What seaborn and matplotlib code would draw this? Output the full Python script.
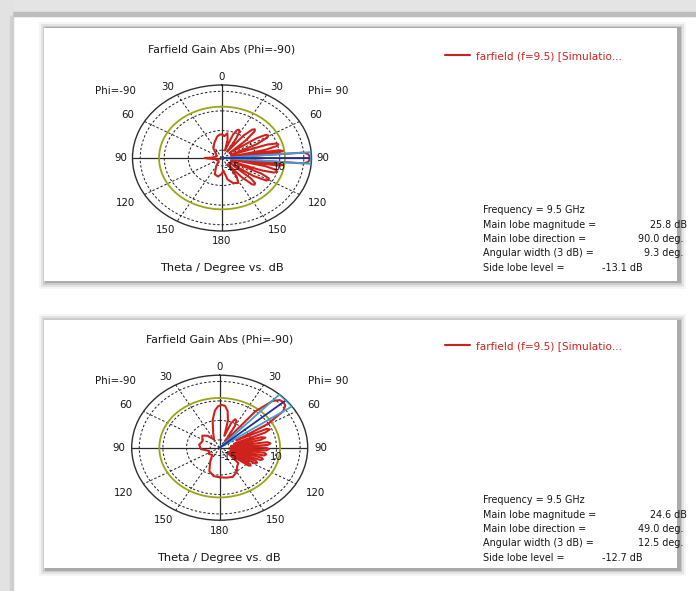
import numpy as np
import matplotlib
matplotlib.use("Agg")
import matplotlib.pyplot as plt
from matplotlib.patches import Rectangle
import seaborn as sns
import pandas as pd

# Farfield cuts (theta in deg, clockwise from top, gain in dB)
top_theta = [-180, -170, -160, -150, -140, -120, -100, -93, -90, -87, -70, -50, -35, -20,
             -10, -4, 0, 5, 10, 14, 18, 21, 24, 26, 28, 31, 34, 38, 41, 43, 45, 48, 51,
             55, 57, 59, 61, 64, 67, 70, 72, 73.5, 75, 77, 79, 80.5, 82, 83.2, 84,
             85.4, 87, 90, 93, 94.6, 96, 96.8, 98, 99.5, 101, 103, 105, 107, 109, 111,
             113, 116, 118, 120, 122, 125, 128, 131, 133, 135, 137, 140, 143, 147, 152,
             160, 168, 175, 180]
top_gain = [-10, -8, -9, -14, -17, -18, -16, -13, -11, -15, -17, -16, -12, -9,
            -6, -5, -5, -6, -4, -8, -15, -4, -0.5, 0, -0.5, -6, -15, -2, 4, 5, 4, -4, -15,
            2, 7, 8, 7, 0, -15, 5, 10, 10.5, 9.5, 3, -15, 10, 12, 9, -12,
            22.8, 25, 25.8, 25, 22.8, -12, 9, 12, 10, -15, 3, 9, 10, 8.5, 2,
            -15, 3, 7.5, 8, 7, 0, -15, 0, 3.5, 4, 3, -4, -15, -6, -2,
            -3, -6, -12, -10]

bot_theta = [-180, -170, -160, -150, -140, -125, -110, -95, -80, -65, -50, -40, -30, -20,
             -12, -6, -2, 2, 6, 10, 14, 18, 21, 24, 27, 30, 35, 39, 43, 46, 49, 52, 55,
             59, 62, 64, 66, 68, 71, 73, 75, 77, 80, 82, 84, 86, 88, 90, 92, 94, 96,
             98, 100, 102, 104, 106, 108, 110, 112, 114, 116, 118, 120, 123, 125, 127,
             130, 135, 142, 150, 160, 170, 180]
bot_gain = [-1, -1.5, -4, -10, -14, -13, -14, -10, -9, -10, -8, -10, -14, -10,
            -2, 4, 6.5, 7.5, 7, 4, -2, -12, -3, 0, -0.5, -4, -15, 10, 21, 24, 24.6, 24, 21,
            10, -10, 7.5, 9, 6, -12, 3, 5, 2, -14, 5.5, 7, 5.5, -14, 4.5, 6, 4.5, -14,
            4, 5, 4, -14, 3, 4, 3, -14, 1, 2, 1, -14, -1, 0, -1,
            -14, -6, -5, -2, 0, -0.5, -1]

freq = [9.5, 9.5]
main_mag = [25.8, 24.6]
main_dir = [90.0, 49.0]
ang_width = [9.3, 12.5]
side_lobe = [-13.1, -12.7]

angle_ticks = [0, 30, 60, 90, 120, 150, 180, 210, 240, 270, 300, 330]
angle_labels = ["0", "30", "60", "90", "120", "150", "180", "150", "120", "90", "60", "30"]
ring_db = [-15, -2.5, 10, 22.5]
rmin, rmax = -20, 26.5

RED = "#d0221c"
LBLUE = "#3d9fd6"
DBLUE = "#1f2f9c"
GREEN = "#9aa514"
TXT = "#161616"
FS = 7.4

sns.set_theme(style="white")
plt.rcParams['font.family'] = ['DejaVu Sans']

fig = plt.figure(figsize=(6.96, 5.91), dpi=100)
W, H = 696, 591


def fx(px):
    return px / W


def fy(py):
    return 1 - py / H


# window background
fig.patches.append(Rectangle((0, fy(16)), 1, 16 / H, transform=fig.transFigure,
                             color="#e4e4e4", zorder=-5))
fig.patches.append(Rectangle((0, fy(16)), 1, 4 / H, transform=fig.transFigure,
                             color="#bdbdbd", zorder=-5))
fig.patches.append(Rectangle((0, 0), 12 / W, 1, transform=fig.transFigure,
                             color="#e2e2e2", zorder=-5))
fig.patches.append(Rectangle((10 / W, 0), 3 / W, fy(16), transform=fig.transFigure,
                             color="#cfcfcf", zorder=-5))

cards = [(44, 28, 677, 281), (44, 320, 677, 568)]
for (x0, y0, x1, y1) in cards:
    for k, a in zip([7, 5, 3, 1.5], [0.04, 0.07, 0.1, 0.16]):
        fig.patches.append(Rectangle((fx(x0 - k + 2), fy(y1 + k + 1)), (x1 - x0 + 2 * k) / W,
                                     (y1 - y0 + 2 * k) / H, transform=fig.transFigure,
                                     color="black", alpha=a, lw=0, zorder=-4))
    fig.patches.append(Rectangle((fx(x0), fy(y1)), (x1 - x0) / W, (y1 - y0) / H,
                                 transform=fig.transFigure, color="white", lw=0, zorder=-3))

panels = [
    dict(theta=top_theta, gain=top_gain, cx=222, cy=158, rx=89.5, ry=73, dy=0),
    dict(theta=bot_theta, gain=bot_gain, cx=219.7, cy=447.7, rx=88, ry=72.5, dy=290),
]

# label offsets from the plot centre, in pixels (x right, y down)
label_off = [(0, -81), (54.5, -71), (94, -43), (101, 0), (96, 45), (56, 72), (0, 83),
             (-56, 72), (-96, 45), (-101, 0), (-94, -43), (-54.5, -71)]

for i, p in enumerate(panels):
    ax = fig.add_axes([fx(p['cx'] - p['rx']), fy(p['cy'] + p['ry']),
                       2 * p['rx'] / W, 2 * p['ry'] / H], projection='polar')
    ax.set_aspect('auto')
    ax.set_facecolor('none')
    ax.set_theta_zero_location('N')
    ax.set_theta_direction(-1)
    ax.set_rlim(rmin, rmax)

    ax.set_rgrids(ring_db, labels=[""] * len(ring_db))
    ax.set_thetagrids(angle_ticks, [""] * len(angle_ticks))
    ax.grid(True, color="#1e1e1e", linestyle=(0, (2.5, 2)), linewidth=0.7)
    ax.spines['polar'].set_color("#2e2e2e")
    ax.spines['polar'].set_linewidth(1.0)

    for (ox, oy), s in zip(label_off, angle_labels):
        ax.annotate(s, (0.5, 0.5), xycoords='axes fraction', xytext=(ox, -oy),
                    textcoords='offset pixels', ha='center', va='center',
                    fontsize=FS, color=TXT, annotation_clip=False)

    # solid main axes
    for t in [0, 90]:
        ax.plot(np.deg2rad([t, t, t + 180, t + 180]), [rmax, rmin, rmin, rmax],
                color="#2a2a2a", lw=0.9, zorder=2)

    # side lobe level circle
    ring_t = np.linspace(0, 2 * np.pi, 361)
    ax.plot(ring_t, [main_mag[i] + side_lobe[i]] * len(ring_t), color=GREEN, lw=1.3, zorder=3)

    # beam direction and 3 dB width
    d, w = main_dir[i], ang_width[i]
    for t, c in [(d - w / 2, LBLUE), (d + w / 2, LBLUE), (d, DBLUE)]:
        ax.plot(np.deg2rad([t, t]), [rmin, rmax], color=c, lw=1.3, zorder=5)
    ax.plot(np.deg2rad([d - w / 2, d + w / 2]), [rmax, rmax], color=LBLUE, lw=1.3, zorder=5)

    df = pd.DataFrame({'theta': np.deg2rad(p['theta']), 'gain': p['gain']})
    sns.lineplot(data=df, x='theta', y='gain', sort=False, estimator=None, ax=ax,
                 color=RED, lw=1.5, zorder=4, label="farfield (f=9.5) [Simulatio...")
    ax.set_xlabel("")
    ax.set_ylabel("")
    handles, labels = ax.get_legend_handles_labels()
    ax.get_legend().remove()

    for r, s in [(-15, "-15"), (10, "10")]:
        ax.annotate(s, (np.deg2rad(90), r), xytext=(0, -3), textcoords='offset points',
                    ha='center', va='top', fontsize=FS, color=TXT, zorder=6)

    off = p['dy']
    fig.text(fx(222 - (2 if i else 0)), fy(50 + off), "Farfield Gain Abs (Phi=-90)",
             ha='center', va='center', fontsize=7.8, color=TXT)
    fig.text(fx(115), fy(91 + off), "Phi=-90", ha='center', va='center', fontsize=FS, color=TXT)
    fig.text(fx(328), fy(91 + off), "Phi= 90", ha='center', va='center', fontsize=FS, color=TXT)
    fig.text(fx(222 - (3 if i else 0)), fy(268 + off), "Theta / Degree vs. dB",
             ha='center', va='center', fontsize=8.2, color=TXT)

    fig.legend(handles, labels, loc='center left', bbox_to_anchor=(fx(435), fy(56 + off)),
               frameon=False, fontsize=7.6, labelcolor=RED, handlelength=2.4,
               handletextpad=0.6)

    info = [("Frequency = %.1f GHz" % freq[i], ""),
            ("Main lobe magnitude =", "%.1f dB" % main_mag[i]),
            ("Main lobe direction =", "%.1f deg." % main_dir[i]),
            ("Angular width (3 dB) =", "%.1f deg." % ang_width[i]),
            ("Side lobe level =", "%.1f dB" % side_lobe[i])]
    val_right = [0, 687, 683, 683, 643]
    for j, (s, v) in enumerate(info):
        yy = fy(210 + off + 14.5 * j)
        fig.text(fx(483), yy, s, ha='left', va='center', fontsize=6.9, color=TXT)
        if v:
            fig.text(fx(val_right[j]), yy, v, ha='right', va='center', fontsize=6.9, color=TXT)

fig.savefig("out.png", dpi=100)
